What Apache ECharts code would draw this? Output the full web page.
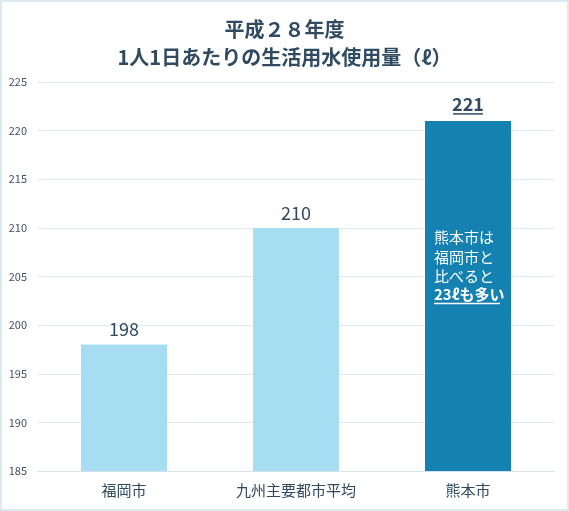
<!DOCTYPE html>
<html><head><meta charset="utf-8">
<script src="https://cdn.jsdelivr.net/npm/echarts@6/dist/echarts.min.js"></script>
<style>
html,body{margin:0;padding:0;background:#fff;}
#c{position:absolute;left:0;top:0;width:569px;height:511px;}
#b{position:absolute;left:0;top:0;width:569px;height:511px;box-sizing:border-box;border:2px solid #dbe9f1;pointer-events:none;}
</style></head>
<body><div id="c"></div><div id="b"></div>
<script>
const titleLines = ['平成２８年度', '1人1日あたりの生活用水使用量（ℓ）'];
const categories = ['福岡市', '九州主要都市平均', '熊本市'];
const values = [198, 210, 221];
const highlightIndex = 2;
const noteLines = ['熊本市は', '福岡市と', '比べると'];
const noteEmphasis = '23ℓも多い';
const yMin = 185, yMax = 225, yStep = 5;

const FONT = '"Noto Sans CJK JP", "Noto Sans", sans-serif';
const TEXT = '#2f4a61';
const LIGHT = '#a6ddf3';
const DARK = '#1581b0';

const barData = values.map((v, i) => {
  if (i === highlightIndex) {
    return {
      value: v,
      itemStyle: { color: DARK },
      label: {
        formatter: '{v|' + v + '}\n{u|}',
        distance: 6,
        fontSize: 1,
        lineHeight: 2,
        rich: {
          v: { fontSize: 18, fontWeight: 'bold', color: TEXT, fontFamily: FONT, lineHeight: 17 },
          u: { width: 30, height: 1.5, lineHeight: 2, fontSize: 1, backgroundColor: TEXT }
        }
      }
    };
  }
  return { value: v };
});

const noteData = values.map((v, i) => i === highlightIndex ? v : null);

const chart = echarts.init(document.getElementById('c'));
chart.setOption({
  animation: false,
  title: {
    text: titleLines.join('\n'),
    left: 'center',
    top: 10,
    textStyle: { fontSize: 20, fontWeight: 'bold', color: TEXT, fontFamily: FONT, lineHeight: 28 }
  },
  grid: { left: 38, right: 15, top: 82, bottom: 40 },
  xAxis: {
    type: 'category',
    data: categories,
    axisTick: { show: false },
    axisLine: { lineStyle: { color: '#d3e2eb', width: 1 } },
    axisLabel: { fontSize: 15, color: TEXT, fontFamily: FONT, margin: 12 }
  },
  yAxis: {
    type: 'value',
    min: yMin, max: yMax, interval: yStep,
    axisLine: { show: false },
    axisTick: { show: false },
    splitLine: { lineStyle: { color: '#dfeaf0', width: 1 } },
    axisLabel: { fontSize: 11, color: '#3f5164', fontFamily: FONT, margin: 11 }
  },
  series: [
    {
      type: 'bar',
      data: barData,
      barWidth: '50%',
      itemStyle: { color: LIGHT },
      label: {
        show: true,
        position: 'top',
        distance: 6,
        fontSize: 18,
        lineHeight: 18,
        color: TEXT,
        fontFamily: FONT
      }
    },
    {
      type: 'bar',
      data: noteData,
      barWidth: '50%',
      barGap: '-100%',
      itemStyle: { color: 'rgba(0,0,0,0)' },
      silent: true,
      z: 5,
      label: {
        show: true,
        position: [9, 107],
        align: 'left',
        verticalAlign: 'top',
        fontSize: 1,
        lineHeight: 2,
        formatter: noteLines.map(s => '{t|' + s + '}').join('\n') + '\n{b|' + noteEmphasis + '}\n{u|}',
        rich: {
          t: { fontSize: 15, color: '#ffffff', fontFamily: FONT, lineHeight: 19.5 },
          b: { fontSize: 15, fontWeight: 'bold', color: '#ffffff', fontFamily: FONT, lineHeight: 16 },
          u: { width: 66, height: 1.5, lineHeight: 2, fontSize: 1, backgroundColor: '#ffffff' }
        }
      }
    }
  ]
});
</script>
</body></html>
